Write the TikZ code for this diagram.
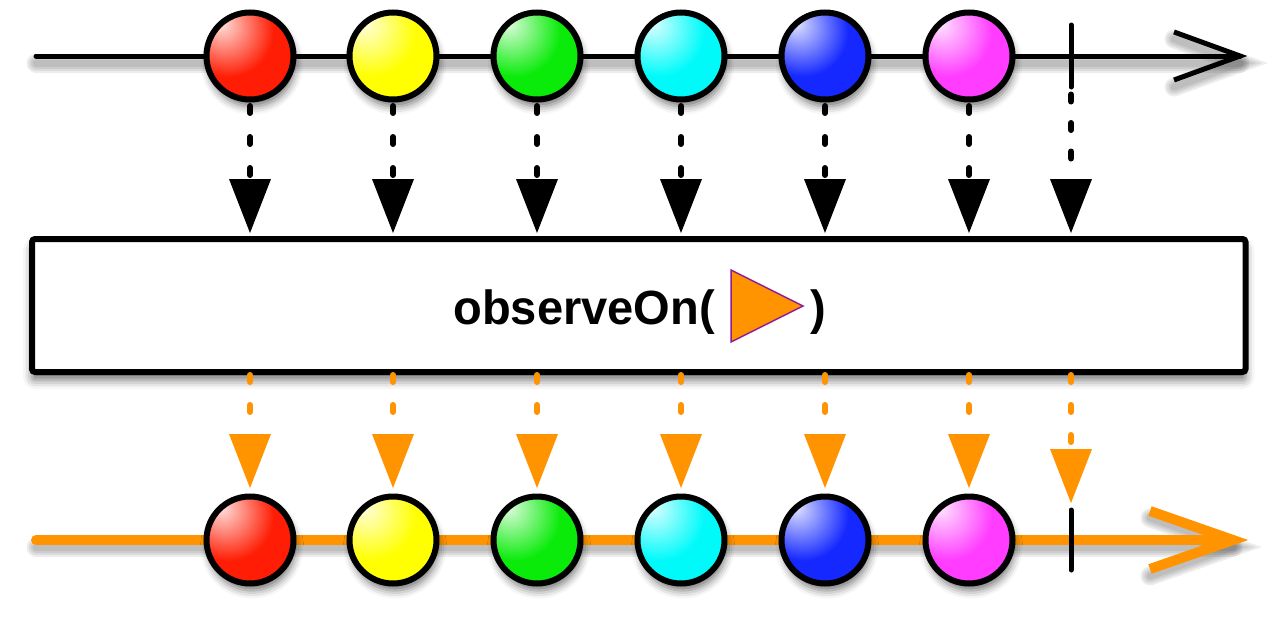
\documentclass[tikz,border=0pt]{standalone}
\usepackage{fontspec}
\setmainfont{Liberation Sans}
\usetikzlibrary{arrows.meta,shadows.blur}

\definecolor{bred}{RGB}{255,30,5}
\definecolor{byel}{RGB}{255,255,0}
\definecolor{bgrn}{RGB}{10,235,10}
\definecolor{bcyn}{RGB}{0,250,250}
\definecolor{bblu}{RGB}{20,40,255}
\definecolor{bmag}{RGB}{255,60,255}
\definecolor{rxorange}{RGB}{255,148,0}
\definecolor{rxpurple}{RGB}{140,30,150}

\newcommand\mkballshading[2]{%
  \pgfdeclareradialshading{#1}{\pgfpoint{-17bp}{19bp}}{%
    color(0bp)=(#2!12!white); color(5bp)=(#2!30!white); color(26bp)=(#2);
    color(48bp)=(#2); color(63bp)=(#2!75!black); color(77bp)=(#2!50!black);
    color(100bp)=(#2!50!black)}}
\mkballshading{shred}{bred}
\mkballshading{shyel}{byel}
\mkballshading{shgrn}{bgrn}
\mkballshading{shcyn}{bcyn}
\mkballshading{shblu}{bblu}
\mkballshading{shmag}{bmag}

\tikzset{
  marble/.style={circle, minimum size=87pt, inner sep=0pt, line width=6pt,
    draw=black, shade, shading=#1,
    blur shadow={shadow xshift=2pt, shadow yshift=-7pt, shadow opacity=55,
      shadow blur radius=8pt}},
  opbox/.style={draw=black, fill=white, line width=6pt, rounded corners=3pt,
    minimum width=1213.5pt, minimum height=133pt, inner sep=0pt,
    blur shadow={shadow xshift=0pt, shadow yshift=-8pt, shadow opacity=55,
      shadow blur radius=9pt}},
  lshadow/.style={line width=#1, black, opacity=0.07, line cap=round,
    transform canvas={yshift=-7pt}},
  blackline/.style={line width=5pt, black},
  orangeline/.style={line width=10pt, rxorange},
  tick/.style={line width=5pt, black, line cap=round},
  dotblack/.style={line width=6pt, black, line cap=round,
    dash pattern=on 7pt off 24pt, dash phase=27.5pt,
    -{Triangle[width=42pt,length=54pt,line width=0pt]}, shorten >=3pt},
  dotorange/.style={line width=6pt, rxorange, line cap=round,
    dash pattern=on 7pt off 23pt,
    -{Triangle[width=42pt,length=54pt,line width=0pt]}, shorten >=5.5pt},
  lbl/.style={inner sep=0pt, font=\fontsize{48}{48}\selectfont\bfseries},
}

\begin{document}
\begin{tikzpicture}[x=1pt,y=-1pt]
\useasboundingbox (0,0) rectangle (1280,616);

% ---------- coordinates of timelines ----------
\coordinate (t0) at (36,56);
\coordinate (t1) at (1240,56);
\coordinate (ta1) at (1174,32);
\coordinate (ta2) at (1174,80);
\coordinate (u0) at (36,540);
\coordinate (u1) at (1233,540);
\coordinate (ua1) at (1150,511);
\coordinate (ua2) at (1150,569);
\coordinate (tk0) at (1071,25);
\coordinate (tk1) at (1071,87);
\coordinate (uk0) at (1071,510);
\coordinate (uk1) at (1071,570);

% ---------- line shadows ----------
\foreach \w in {7,11,15,19}{
  \draw[lshadow=\w pt] (t0) -- (t1);
  \draw[lshadow=\w pt] (ta1) -- (t1) -- (ta2);
  \draw[lshadow=\w pt] (u0) -- (u1);
  \draw[lshadow=\w pt] (ua1) -- (u1) -- (ua2);
}

% ---------- timelines ----------
\draw[blackline, line cap=round] (t0) -- (t1);
\draw[blackline, line cap=butt, line join=miter] (ta1) -- (t1) -- (ta2);
\draw[orangeline, line cap=round] (u0) -- (u1);
\draw[orangeline, line cap=butt, line join=miter] (ua1) -- (u1) -- (ua2);

% ---------- operator box ----------
\node[opbox] (box) at (638.75,305.5) {};

% ---------- marbles ----------
\foreach \n/\x/\s in {1/250/shred, 2/393/shyel, 3/537/shgrn, 4/681/shcyn, 5/825/shblu, 6/969/shmag}{
  \node[marble=\s] (a\n) at (\x,56) {};
  \node[marble=\s] (b\n) at (\x,540) {};
}

% ---------- completion ticks ----------
\draw[tick] (tk0) -- (tk1);
\draw[tick] (uk0) -- (uk1);

% ---------- connectors ----------
\foreach \n in {1,...,6}{
  \draw[dotblack] (a\n.south) -- (a\n.south |- box.north);
  \draw[dotorange] (a\n.south |- box.south) -- (b\n.north);
}
\draw[dotblack, dash pattern=on 7pt off 21.5pt, dash phase=21pt] (tk1) -- (tk1 |- box.north);
\draw[dotorange, shorten >=7pt] (tk1 |- box.south) -- (uk0);

% ---------- label ----------
\node[lbl, anchor=base east] (op) at (715,324) {\scalebox{0.98}[1]{observeOn(}};
\draw[fill=rxorange, draw=rxpurple, line width=1.5pt, line join=miter]
  (731,270) -- (803,306) -- (731,342) -- cycle;
\node[lbl, anchor=base west] (cp) at (810,324) {\scalebox{0.98}[1]{)}};
\end{tikzpicture}
\end{document}
